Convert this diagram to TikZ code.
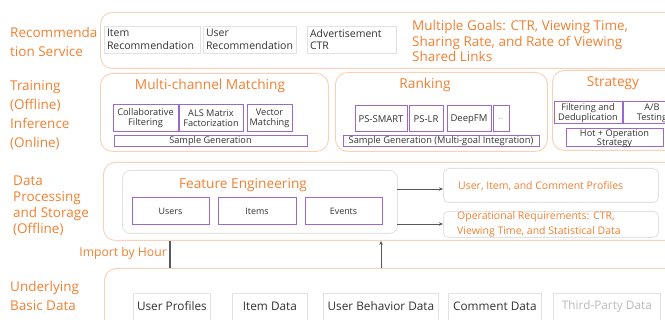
\documentclass[tikz,border=0pt]{standalone}
\usepackage{fontspec}
\setmainfont{Open Sans}
\usetikzlibrary{arrows.meta}
\definecolor{orT}{RGB}{242,128,48}
\definecolor{orB}{RGB}{250,208,182}
\definecolor{puB}{RGB}{155,105,205}
\definecolor{grB}{RGB}{226,226,226}
\definecolor{txD}{RGB}{50,50,50}
\definecolor{txL}{RGB}{185,185,185}
\newcommand{\myfs}[2]{\fontsize{#1}{#2}\selectfont}
\begin{document}
\begin{tikzpicture}[x=1pt,y=-1pt,
 outerbox/.style={draw=orB, line width=0.9pt, rounded corners=12pt, anchor=north west, inner sep=0pt},
 innerbox/.style={draw=grB, line width=0.9pt, rounded corners=8pt, anchor=north west, inner sep=0pt},
 pbox/.style={draw=puB, line width=1pt, inner sep=0pt, text=txD, align=center},
 gbox/.style={draw=grB, line width=0.8pt, inner sep=0pt, text=txD},
 rbox/.style={draw=grB, line width=0.9pt, rounded corners=5pt, anchor=north west, inner sep=0pt},
 lbl/.style={text=orT, align=left, anchor=west, inner sep=0pt, font=\myfs{13.5}{19}},
 head/.style={text=orT, inner sep=0pt, font=\myfs{13.7}{16}},
 otext/.style={text=orT, align=left, anchor=west, inner sep=0pt, font=\myfs{10.5}{15}},
 btext/.style={text=txD, inner sep=0pt, font=\myfs{11.8}{14}},
 conn/.style={draw=black!65, line width=1pt},
 tip/.style={-{Stealth[length=4pt,width=3.5pt]}},
]
\useasboundingbox (0,0) rectangle (665,320);
\clip (0,0) rectangle (665,320);

% ---------- Row 1: Recommendation Service
\node[lbl] (l1) at (10,41.5) {Recommenda\\tion Service};
\node[outerbox, minimum width=580pt, minimum height=56pt] (recbox) at (100,12) {};
\node[gbox, minimum width=96pt, minimum height=27pt, text width=90pt, align=left, font=\myfs{10.5}{12.5}] (itemrec) at (152,39.5) {Item\\Recommendation};
\node[gbox, minimum width=93pt, minimum height=27pt, text width=87pt, align=left, font=\myfs{10.5}{12.5}] (userrec) at (249.5,39.5) {User\\Recommendation};
\node[gbox, minimum width=89pt, minimum height=27pt, text width=83pt, align=left, font=\myfs{10.5}{12.5}] (adrec) at (351.5,39.5) {Advertisement\\CTR};
\node[text=orT, align=left, anchor=west, inner sep=0pt, font=\myfs{13.5}{15.7}] (goals) at (412,41) {Multiple Goals: CTR, Viewing Time,\\Sharing Rate, and Rate of Viewing\\Shared Links};

% ---------- Row 2: Training / Inference
\node[lbl] (l2) at (10,115.5) {Training\\(Offline)\\Inference\\(Online)};
\node[outerbox, minimum width=228pt, minimum height=78pt] (matchbox) at (100,73) {};
\node[head] (matchT) at (210,86) {Multi-channel Matching};
\node[pbox, minimum width=65pt, minimum height=27pt, font=\myfs{9.2}{10}] (cf) at (145.5,118.5) {Collaborative\\Filtering};
\node[pbox, minimum width=64pt, minimum height=27pt, font=\myfs{9.2}{10}] (als) at (211,118.5) {ALS Matrix\\Factorization};
\node[pbox, minimum width=45pt, minimum height=27pt, font=\myfs{9.2}{10}] (vec) at (269.5,118.5) {Vector\\Matching};
\node[pbox, minimum width=193pt, minimum height=11pt, font=\myfs{9.2}{10}] (sg1) at (210.5,141.5) {Sample Generation};

\node[outerbox, minimum width=212pt, minimum height=79pt] (rankbox) at (335,72) {};
\node[head] (rankT) at (425,85) {Ranking};
\node[pbox, minimum width=52pt, minimum height=26pt, font=\myfs{9.5}{10}] (pssmart) at (381,119) {PS-SMART};
\node[pbox, minimum width=34pt, minimum height=26pt, font=\myfs{9.5}{10}] (pslr) at (426,119) {PS-LR};
\node[pbox, minimum width=44pt, minimum height=26pt, font=\myfs{9.5}{10}] (deepfm) at (469,119) {DeepFM};
\node[pbox, minimum width=16pt, minimum height=26pt, font=\myfs{6}{8}, text=black!50] (dots) at (501,119) {...};
\node[pbox, minimum width=196pt, minimum height=11pt, font=\myfs{9.3}{10}] (sg2) at (441,141.5) {Sample Generation (Multi-goal Integration)};

\node[outerbox, minimum width=130pt, minimum height=80pt] (stratbox) at (552,70) {};
\node[head] (stratT) at (613,83) {Strategy};
\node[pbox, minimum width=68pt, minimum height=22pt, font=\myfs{9.2}{10}] (filt) at (588,113) {Filtering and\\Deduplication};
\node[pbox, minimum width=58pt, minimum height=22pt, font=\myfs{9.2}{10}] (ab) at (652,113) {A/B\\Testing};
\node[pbox, minimum width=97pt, minimum height=18pt] (hot) at (614.5,138) {};
\node[text=txD, align=center, inner sep=0pt, font=\myfs{9.2}{9.5}] (hotT) at (614.5,138.5) {Hot + Operation\\Strategy};

% ---------- Row 3: Data Processing
\node[lbl, font=\myfs{13.5}{16}] (l3) at (13,206) {Data\\Processing\\and Storage\\(Offline)};
\node[outerbox, minimum width=580pt, minimum height=78pt] (databox) at (103,162) {};
\node[innerbox, minimum width=275pt, minimum height=63pt] (fe) at (122,170) {};
\node[head] (feT) at (243,185) {Feature Engineering};
\node[pbox, minimum width=77pt, minimum height=27pt, font=\myfs{8.9}{10}] (users) at (170.5,211.5) {Users};
\node[pbox, minimum width=78pt, minimum height=27pt, font=\myfs{8.9}{10}] (items) at (257,211.5) {Items};
\node[pbox, minimum width=77pt, minimum height=27pt, font=\myfs{8.9}{10}] (events) at (343.5,211.5) {Events};
\node[rbox, minimum width=215pt, minimum height=34pt] (prof) at (443,168) {};
\node[otext] (profT) at (458,186) {User, Item, and Comment Profiles};
\node[rbox, minimum width=215pt, minimum height=26pt] (ops) at (443,211) {};
\node[otext] (opsT) at (457,224.5) {Operational Requirements: CTR,\\Viewing Time, and Statistical Data};
\coordinate (a1) at (397,189);
\coordinate (a2) at (397,224);
\draw[conn, line width=0.9pt, tip] (a1) -- (a1 -| prof.west);
\draw[conn, line width=0.9pt, tip] (a2) -- (a2 -| ops.west);

% ---------- Row 4: Underlying Basic Data
\node[lbl] (l4) at (10,295.5) {Underlying\\Basic Data};
\node[outerbox, minimum width=580pt, minimum height=80pt] (basebox) at (104,268) {};
\node[gbox, anchor=north west, minimum width=77pt, minimum height=40pt] (up) at (133,293) {};
\node[btext] (upT) at (up.north |- 0,306) {User Profiles};
\node[gbox, anchor=north west, minimum width=75pt, minimum height=40pt] (itd) at (232,293) {};
\node[btext] (itdT) at (itd.north |- 0,306) {Item Data};
\node[gbox, anchor=north west, minimum width=115pt, minimum height=40pt] (ubd) at (323,293) {};
\node[btext] (ubdT) at (ubd.north |- 0,306) {User Behavior Data};
\node[gbox, anchor=north west, minimum width=93pt, minimum height=40pt] (cd) at (448,293) {};
\node[btext] (cdT) at (cd.north |- 0,306) {Comment Data};
\node[gbox, anchor=north west, minimum width=107pt, minimum height=40pt] (tp) at (553,293) {};
\node[btext, text=txL] (tpT) at (tp.north |- 0,306) {Third-Party Data};

% ---------- import connectors
\node[text=orT, anchor=east, inner sep=0pt, font=\myfs{12.2}{14}] (imp) at (167,253) {Import by Hour};
\coordinate (v1) at (170,268);
\coordinate (v2) at (381,268);
\draw[conn, line width=1.3pt] (v1) -- (v1 |- databox.south);
\draw[conn, tip] (v2) -- (v2 |- databox.south);
\end{tikzpicture}
\end{document}
